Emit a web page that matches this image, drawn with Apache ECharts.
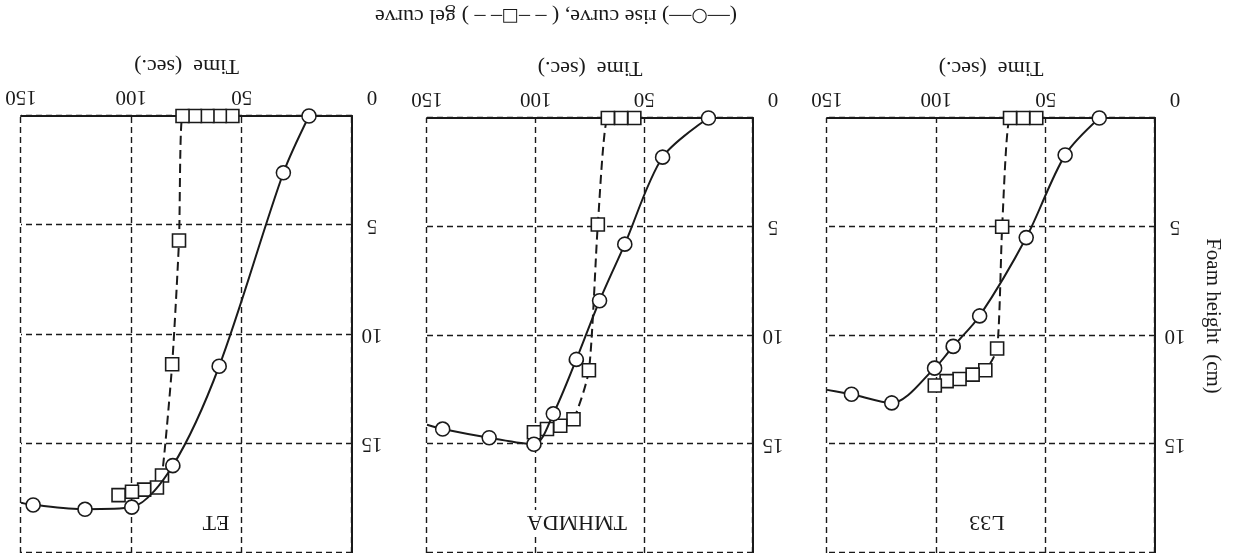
<!DOCTYPE html>
<html>
<head>
<meta charset="utf-8">
<script src="https://cdn.jsdelivr.net/npm/echarts@6/dist/echarts.min.js"></script>
<style>
html,body{margin:0;padding:0;background:#fff;}
#chart{width:1235px;height:553px;transform:rotate(180deg);transform-origin:50% 50%;}
</style>
</head>
<body>
<div id="chart"></div>
<script>
// ---- data (time in s, foam height in cm) ----
const panelNames = ['L33', 'TMHMDA', 'ET'];
const timeTicks = [0, 50, 100, 150];
const heightTicks = [0, 5, 10, 15, 20];

const l33RiseTime   = [25.5, 41.1, 58.9, 80.2, 92.3, 100.8, 120.4, 138.8];
const l33RiseHeight = [0,    1.7,  5.5,  9.1,  10.5, 11.5,  13.1,  12.7];
const l33RiseTail   = [150, 12.5];
const l33GelTime    = [54.3, 60.3, 66.3, 69.9, 72.2, 77.6, 83.4, 89.4, 95.3, 100.7];
const l33GelHeight  = [0,    0,    0,    5.0,  10.6, 11.6, 11.8, 12.0, 12.1, 12.3];

const tmRiseTime    = [20.5, 41.6, 59.0, 70.6, 81.3, 91.9, 100.8, 121.4, 142.8];
const tmRiseHeight  = [0,    1.8,  5.8,  8.4,  11.1, 13.6, 15.0,  14.7,  14.3];
const tmRiseTail    = [150, 14.1];
const tmGelTime     = [54.6, 60.7, 66.8, 71.4, 75.5, 82.6, 88.7, 94.8, 100.8];
const tmGelHeight   = [0,    0,    0,    4.9,  11.6, 13.85, 14.15, 14.3, 14.45];

const etRiseTime    = [19.5, 31.1, 60.2, 81.2, 99.8, 121.0, 144.5];
const etRiseHeight  = [0,    2.6,  11.45, 16.0, 17.9, 18.0, 17.8];
const etRiseTail    = [150, 17.7];
const etGelTime     = [54.2, 59.9, 65.5, 71.2, 76.8, 78.4, 81.5, 86.1, 88.4, 94.2, 99.7, 105.8];
const etGelHeight   = [0,    0,    0,    0,    0,    5.7,  11.36, 16.45, 17.0, 17.1, 17.2, 17.35];

const legendText = '(\u2014{c|\u25CB}\u2014) rise curve, ( \u2013 \u2013{s|\u25A1}\u2013 \u2013 ) gel curve';
const yAxisName = 'Foam height  (cm)';
const xAxisName = 'Time  (sec.)';

// ---- build ----
const FONT = '"Liberation Serif", "DejaVu Serif", serif';
const INK = '#1a1a1a';

const grids = [
  {left: 80,  width: 328, bottom: 118, top: -40},
  {left: 482, width: 326, bottom: 118, top: -40},
  {left: 883, width: 331, bottom: 116, top: -42}
];

function pairs(t, h) { return t.map((v, i) => [v, h[i]]); }

const riseSets = [
  [l33RiseTime, l33RiseHeight, l33RiseTail],
  [tmRiseTime, tmRiseHeight, tmRiseTail],
  [etRiseTime, etRiseHeight, etRiseTail]
];
const gelSets = [
  [l33GelTime, l33GelHeight],
  [tmGelTime, tmGelHeight],
  [etGelTime, etGelHeight]
];

const xAxes = grids.map((g, i) => ({
  type: 'value', gridIndex: i,
  min: timeTicks[0], max: timeTicks[timeTicks.length - 1], interval: timeTicks[1] - timeTicks[0],
  axisLine: {show: true, onZero: false, lineStyle: {color: INK, width: 2}},
  axisTick: {show: false},
  axisLabel: {
    fontFamily: FONT, fontSize: 21, color: INK, margin: 9,
    formatter: v => v === 0 ? '{o|0}' : String(v),
    rich: {o: {fontFamily: FONT, fontSize: 21, color: INK, padding: [0, 40, 0, 0]}}
  },
  splitLine: {show: true, lineStyle: {color: INK, width: 1.4, type: [6, 4]}},
  name: xAxisName, nameLocation: 'middle', nameGap: 39,
  nameTextStyle: {fontFamily: FONT, fontSize: 22, color: INK}
}));

const yAxes = grids.map((g, i) => ({
  type: 'value', gridIndex: i,
  min: heightTicks[0], max: heightTicks[heightTicks.length - 1], interval: heightTicks[1] - heightTicks[0],
  axisLine: {show: true, onZero: false, lineStyle: {color: INK, width: 2}},
  axisTick: {show: false},
  axisLabel: {
    fontFamily: FONT, fontSize: 21, color: INK, margin: 20, align: 'center',
    formatter: v => (v === heightTicks[0] || v === heightTicks[heightTicks.length - 1]) ? '' : String(v)
  },
  splitLine: {show: true, lineStyle: {color: INK, width: 1.4, type: [6, 4]}}
}));

const series = [];
riseSets.forEach((s, i) => {
  const data = pairs(s[0], s[1]);
  data.push({value: s[2], symbol: 'none'});
  series.push({
    type: 'line', xAxisIndex: i, yAxisIndex: i, data: data,
    smooth: 0.3,
    symbol: 'circle', symbolSize: 14, showSymbol: true,
    lineStyle: {color: INK, width: 2},
    itemStyle: {color: '#fff', borderColor: INK, borderWidth: 1.6},
    z: 4
  });
});
gelSets.forEach((s, i) => {
  series.push({
    type: 'line', xAxisIndex: i, yAxisIndex: i, data: pairs(s[0], s[1]),
    smooth: 0.2,
    symbol: 'rect', symbolSize: 13, showSymbol: true,
    lineStyle: {color: INK, width: 2, type: [9, 5]},
    itemStyle: {color: '#fff', borderColor: INK, borderWidth: 1.6},
    z: 3
  });
});

const labelPos = [{x: 245, y: 32}, {x: 655, y: 32}, {x: 1016, y: 32}];
const titles = [{
  text: legendText, left: 679, top: 526, textAlign: 'center', padding: 0,
  textStyle: {
    fontFamily: FONT, fontSize: 22, fontWeight: 'normal', color: INK,
    rich: {
      c: {fontFamily: '"DejaVu Sans"', fontSize: 19, color: INK},
      s: {fontFamily: '"DejaVu Sans"', fontSize: 18, color: INK}
    }
  }
}].concat(panelNames.map((n, i) => ({
  text: n, left: labelPos[i].x, top: labelPos[i].y - 13, textAlign: 'center',
  backgroundColor: '#fff', padding: [1, 3],
  textStyle: {fontFamily: FONT, fontSize: 22, fontWeight: 'normal', color: INK}
})));

const chart = echarts.init(document.getElementById('chart'), null, {renderer: 'canvas'});
chart.setOption({
  animation: false,
  backgroundColor: '#fff',
  textStyle: {fontFamily: FONT},
  title: titles,
  grid: grids,
  xAxis: xAxes,
  yAxis: yAxes,
  series: series,
  graphic: [{
    type: 'text', x: 22, y: 237, rotation: Math.PI / 2,
    style: {text: yAxisName, fontFamily: FONT, fontSize: 21, fill: INK, align: 'center', verticalAlign: 'middle'}
  }]
});
</script>
</body>
</html>
